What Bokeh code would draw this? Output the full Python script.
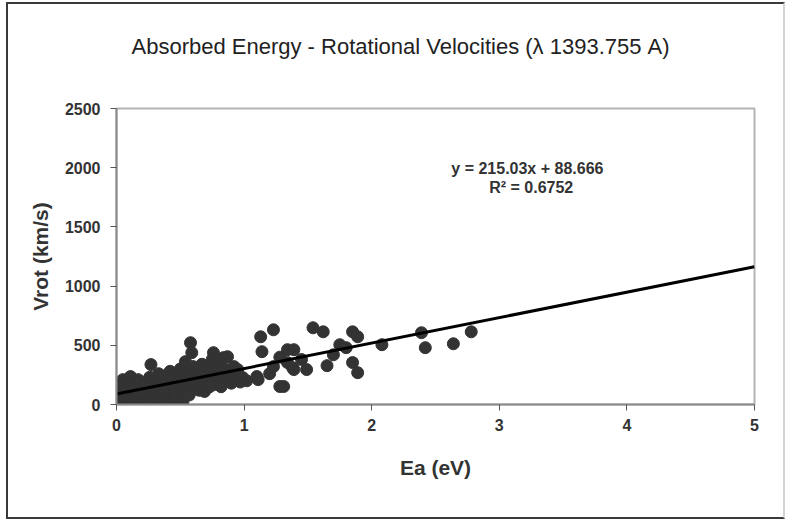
from bokeh.plotting import figure
from bokeh.models import FixedTicker, Label, Title
from bokeh.embed import file_html
from bokeh.resources import INLINE

# ---- data ----
ea = [0.02, 0.03, 0.05, 0.05, 0.06, 0.08, 0.09, 0.10, 0.11, 0.12, 0.13, 0.14, 0.15, 0.16,
      0.17, 0.18, 0.19, 0.20, 0.21, 0.22, 0.23, 0.24, 0.25, 0.26, 0.27, 0.28, 0.29, 0.30,
      0.31, 0.32, 0.33, 0.34, 0.35, 0.36, 0.37, 0.38, 0.39, 0.40, 0.41, 0.42, 0.43, 0.44,
      0.45, 0.46, 0.47, 0.48, 0.49, 0.50, 0.51, 0.52, 0.53, 0.54, 0.55, 0.56, 0.57, 0.58,
      0.59, 0.60, 0.61, 0.62, 0.63, 0.65, 0.66, 0.67, 0.68, 0.70, 0.71, 0.72, 0.74, 0.75,
      0.76, 0.77, 0.78, 0.80, 0.81, 0.82, 0.84, 0.85, 0.87, 0.88, 0.90, 0.92, 0.93, 0.95,
      0.97, 0.99, 1.02, 1.10, 1.11, 1.13, 1.14, 1.20, 1.23, 1.23, 1.28, 1.28, 1.31, 1.34,
      1.34, 1.38, 1.39, 1.39, 1.45, 1.49, 1.54, 1.62, 1.65, 1.70, 1.75, 1.80, 1.85, 1.85,
      1.89, 1.89, 2.08, 2.39, 2.42, 2.64, 2.78,
      0.04, 0.07, 0.12, 0.18, 0.24, 0.30, 0.35, 0.41, 0.46, 0.52, 0.57, 0.63, 0.69, 0.73]
vrot = [40, 120, 10, 210, 80, 150, 30, 190, 236, 100, 60, 20, 170, 120,
        210, 50, 90, 140, 15, 180, 70, 110, 40, 230, 337, 150, 90, 200,
        20, 130, 260, 60, 170, 100, 240, 30, 190, 140, 80, 280, 220, 50,
        160, 110, 250, 30, 200, 300, 90, 240, 150, 362, 190, 270, 120, 522,
        438, 320, 210, 160, 280, 120, 230, 340, 190, 260, 140, 300, 220, 380,
        438, 170, 330, 260, 210, 150, 396, 300, 404, 250, 180, 320, 220, 295,
        190, 227, 200, 236, 210, 572, 446, 260, 631, 320, 152, 400, 152, 354,
        463, 311, 463, 295, 380, 295, 648, 614, 328, 420, 505, 480, 614, 354,
        572, 269, 505, 606, 480, 513, 614,
        160, 60, 40, 100, 20, 70, 10, 30, 60, 20, 80, 130, 110, 150]
x_ticks = [0, 1, 2, 3, 4, 5]
y_ticks = [0, 500, 1000, 1500, 2000, 2500]
slope = 215.03
intercept = 88.666
r_squared = 0.6752
title_text = "Absorbed  Energy  - Rotational Velocities (\u03bb 1393.755  A)"
x_label = "Ea (eV)"
y_label = "Vrot (km/s)"

FONT = "Liberation Sans"

p = figure(frame_width=638, frame_height=296,
           x_range=(0, 5), y_range=(0, 2500),
           output_backend="svg", toolbar_location=None,
           min_border_left=108, min_border_right=29,
           min_border_top=104, min_border_bottom=113)
p.styles = {"border-left": "2px solid #3a3a3a",
            "border-top": "2px solid #3a3a3a",
            "border-bottom": "2px solid #3a3a3a",
            "border-right": "2px solid #d4d4d4",
            "margin-left": "6px", "margin-top": "2px"}
p.background_fill_color = "white"
p.border_fill_color = "white"
p.outline_line_color = "#b4b4b4"
p.outline_line_width = 2
p.xgrid.visible = False
p.ygrid.visible = False

for ax in (p.xaxis[0], p.yaxis[0]):
    ax.axis_line_color = "#8c8c8c"
    ax.axis_line_width = 2
    ax.major_tick_line_color = "#555555"
    ax.major_tick_in = 0
    ax.major_tick_out = 6
    ax.minor_tick_line_color = None
    ax.major_label_text_font = FONT
    ax.major_label_text_font_style = "bold"
    ax.major_label_text_font_size = "16px"
    ax.major_label_text_color = "#333333"
    ax.axis_label_text_font = FONT
    ax.axis_label_text_font_style = "bold"
    ax.axis_label_text_font_size = "21px"
    ax.axis_label_text_color = "#333333"

p.xaxis.ticker = FixedTicker(ticks=x_ticks)
p.yaxis.ticker = FixedTicker(ticks=y_ticks)
p.xaxis.axis_label = x_label
p.yaxis.axis_label = y_label
p.xaxis.axis_label_standoff = 22
p.yaxis.axis_label_standoff = 10
p.xaxis.major_label_standoff = 8
p.yaxis.major_label_standoff = 10

p.scatter(ea, vrot, size=12, color="#333333", line_color="#333333")

fit_x = [x_ticks[0], x_ticks[-1]]
fit_y = [intercept + slope * v for v in fit_x]
p.line(fit_x, fit_y, line_color="black", line_width=3)

p.add_layout(Label(x=3.22, y=1990, text="y = %.2fx + %.3f" % (slope, intercept),
                   text_align="center", text_baseline="middle",
                   text_font=FONT, text_font_style="bold", text_font_size="16px",
                   text_color="#333333"))
p.add_layout(Label(x=3.25, y=1830, text="R\u00b2 = %.4f" % r_squared,
                   text_align="center", text_baseline="middle",
                   text_font=FONT, text_font_style="bold", text_font_size="16px",
                   text_color="#333333"))

# spacer between the frame and the title
p.add_layout(Title(text=" ", text_font_size="30px"), "above")
p.add_layout(Title(text=title_text, align="left", offset=15,
                   text_font=FONT, text_font_style="normal", text_font_size="22px",
                   text_color="#222222"), "above")

open("out.html", "w").write(file_html(p, INLINE))
